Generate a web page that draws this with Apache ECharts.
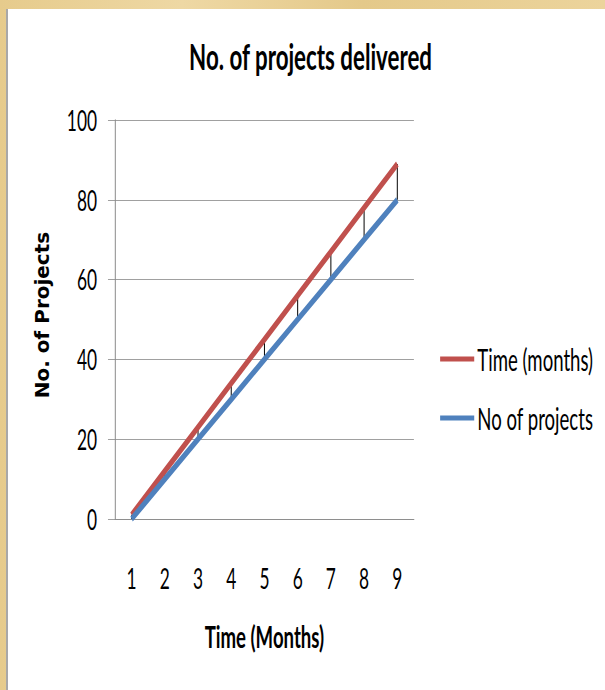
<!DOCTYPE html>
<html>
<head>
<meta charset="utf-8">
<script src="https://cdn.jsdelivr.net/npm/echarts@6/dist/echarts.min.js"></script>
<style>
    html, body { margin: 0; padding: 0; width: 605px; height: 690px; overflow: hidden; }
    body {
        background: #e8d097;
        background-image: linear-gradient(90deg, #e6cb8c 0%, #eed8a4 30%, #e4c98a 60%, #ecd49c 100%);
        position: relative;
    }
    #panel {
        position: absolute; left: 6px; top: 9px; width: 597px; height: 681px;
        background: #fff; border-left: 2px solid #a8a8a8;
    }
    #wrap { position: absolute; left: 0; top: 0; width: 605px; height: 690px; overflow: hidden; }
    /* the original is a squeezed picture: draw wide, then squeeze x */
    #chart {
        position: absolute; left: 0; top: 0; width: 976px; height: 690px;
        transform: scaleX(0.6199); transform-origin: 0 0;
    }
</style>
</head>
<body>
<div id="panel"></div>
<div id="wrap"><div id="chart"></div></div>
<script>
// months on the x axis
var months = ['1', '2', '3', '4', '5', '6', '7', '8', '9'];
var timeMonths = [1, 12, 23, 34, 45, 56, 67, 78, 89];
var noOfProjects = [0, 10, 20, 30, 40, 50, 60, 70, 80];

var SX = 0.6199;
var font = 'Lato, "Open Sans", sans-serif';

var chart = echarts.init(document.getElementById('chart'), null, { renderer: 'svg' });

chart.setOption({
    backgroundColor: 'transparent',
    animation: false,
    title: {
        text: 'No. of projects delivered',
        left: 300,
        top: 33,
        textStyle: {
            fontFamily: font,
            fontSize: 36,
            fontWeight: 'bold',
            color: '#000'
        }
    },
    legend: {
        orient: 'vertical',
        left: 705,
        top: 339,
        itemWidth: 55,
        itemHeight: 5,
        itemGap: 29,
        textStyle: {
            fontFamily: font,
            fontSize: 30,
            color: '#000',
            lineHeight: 30
        },
        data: [
            { name: 'Time (months)', icon: 'rect' },
            { name: 'No of projects', icon: 'rect' }
        ]
    },
    grid: {
        left: 185.5,
        right: 308.3,
        top: 120,
        bottom: 171
    },
    graphic: [{
        // y axis title, kept unsqueezed
        type: 'text',
        x: 42 / SX,
        y: 315,
        rotation: Math.PI / 2,
        scaleY: 1 / SX,
        style: {
            text: 'No. of Projects',
            fontFamily: '"DejaVu Sans", Verdana, sans-serif',
            fontSize: 20,
            fontWeight: 'bold',
            fill: '#000',
            align: 'center',
            verticalAlign: 'middle'
        }
    }],
    xAxis: {
        type: 'category',
        data: months,
        boundaryGap: true,
        name: 'Time (Months)',
        nameLocation: 'middle',
        nameGap: 102,
        nameTextStyle: {
            fontFamily: font,
            fontSize: 30,
            fontWeight: 'bold',
            color: '#000'
        },
        axisLine: { lineStyle: { color: '#8a8a8a', width: 1 } },
        axisTick: { show: false },
        axisLabel: {
            margin: 45,
            fontFamily: font,
            fontSize: 28,
            color: '#000'
        }
    },
    yAxis: {
        type: 'value',
        min: 0,
        max: 100,
        interval: 20,
        axisLine: { show: true, lineStyle: { color: '#8a8a8a', width: 1.6 } },
        axisTick: { show: true, length: 11.3, lineStyle: { color: '#8a8a8a' } },
        splitLine: { lineStyle: { color: '#8a8a8a', width: 1 } },
        axisLabel: {
            margin: 29,
            fontFamily: font,
            fontSize: 28,
            color: '#000'
        }
    },
    series: [
        {
            // high-low lines between the two series
            name: 'hilo',
            type: 'custom',
            silent: true,
            z: 1,
            data: months.map(function (m, i) {
                return [i, noOfProjects[i], timeMonths[i]];
            }),
            encode: { x: 0, y: [1, 2] },
            renderItem: function (params, api) {
                var lo = api.coord([api.value(0), api.value(1)]);
                var hi = api.coord([api.value(0), api.value(2)]);
                return {
                    type: 'line',
                    shape: { x1: lo[0], y1: lo[1], x2: hi[0], y2: hi[1] },
                    style: { stroke: '#000', lineWidth: 1.6 }
                };
            }
        },
        {
            name: 'Time (months)',
            type: 'line',
            data: timeMonths,
            symbol: 'none',
            z: 3,
            lineStyle: { color: '#c0504d', width: 6.5 },
            itemStyle: { color: '#c0504d' }
        },
        {
            name: 'No of projects',
            type: 'line',
            data: noOfProjects,
            symbol: 'none',
            z: 3,
            lineStyle: { color: '#4f81bd', width: 6.5 },
            itemStyle: { color: '#4f81bd' }
        }
    ]
});
</script>
</body>
</html>
